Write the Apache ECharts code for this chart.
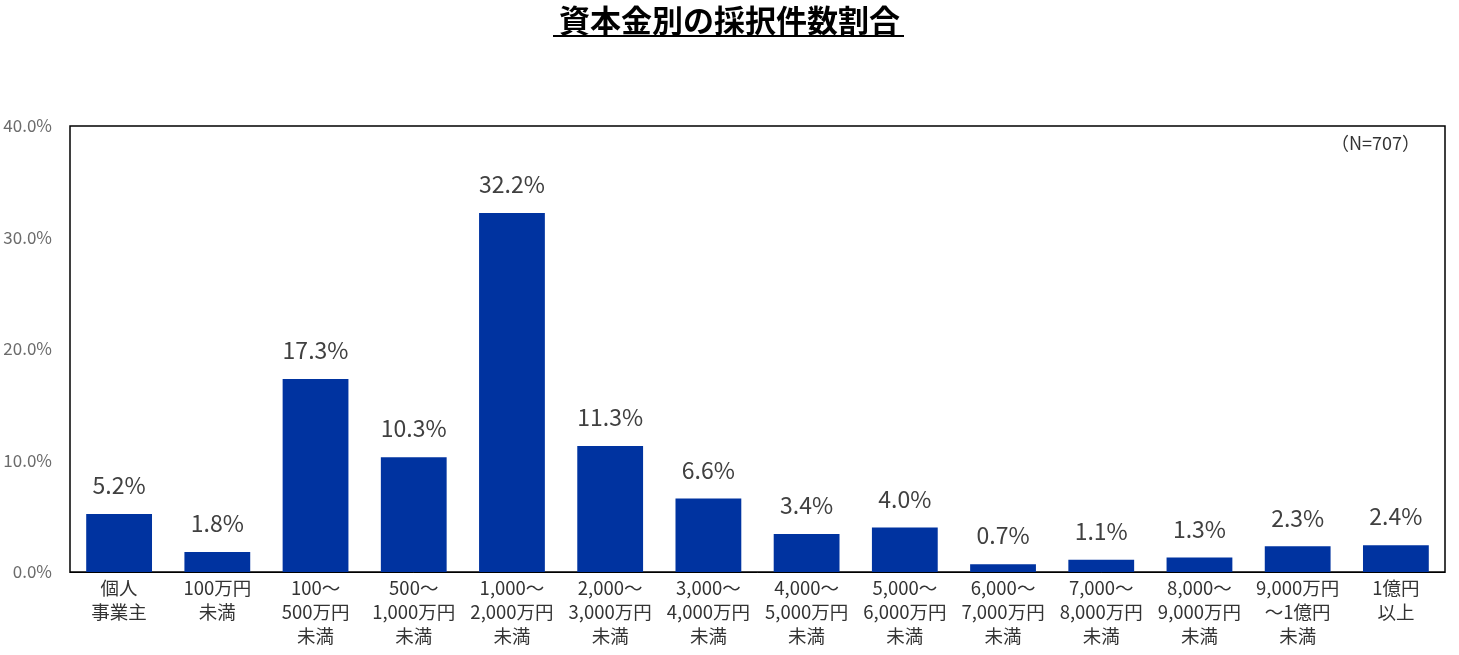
<!DOCTYPE html>
<html><head><meta charset="utf-8">
<script src="https://cdn.jsdelivr.net/npm/echarts@6/dist/echarts.min.js"></script>
<style>html,body{margin:0;padding:0;background:#fff}#c{width:1459px;height:655px}</style>
</head><body><div id="c"></div>
<script>
const titleText = '資本金別の採択件数割合';
const noteText = '（N=707）';
const categories = ['個人\n事業主','100万円\n未満','100～\n500万円\n未満','500～\n1,000万円\n未満','1,000～\n2,000万円\n未満','2,000～\n3,000万円\n未満','3,000～\n4,000万円\n未満','4,000～\n5,000万円\n未満','5,000～\n6,000万円\n未満','6,000～\n7,000万円\n未満','7,000～\n8,000万円\n未満','8,000～\n9,000万円\n未満','9,000万円\n～1億円\n未満','1億円\n以上'];
const values = [5.2,1.8,17.3,10.3,32.2,11.3,6.6,3.4,4.0,0.7,1.1,1.3,2.3,2.4];
const yTicks = [0,10,20,30,40];

const font = '"Noto Sans CJK JP", "Noto Sans", sans-serif';
const chart = echarts.init(document.getElementById('c'));
chart.setOption({
  animation:false,
  textStyle:{fontFamily:font},
  title:{text:titleText,left:'center',top:0,textStyle:{fontSize:31,fontWeight:'bold',color:'#000',fontFamily:font}},
  graphic:[{type:'line',shape:{x1:553,y1:36,x2:904,y2:36},style:{stroke:'#000',lineWidth:2}},
           {type:'text',right:39,top:134,style:{text:noteText,fontSize:18,fill:'#333',fontFamily:font}}],
  grid:{left:70,right:14,top:126,bottom:83,show:true,borderColor:'#000',borderWidth:1.5},
  xAxis:{type:'category',data:categories,
    axisLine:{lineStyle:{color:'#000'}},axisTick:{show:false},
    axisLabel:{interval:0,fontSize:18.5,color:'#333',lineHeight:24,margin:4,fontFamily:font}},
  yAxis:{type:'value',min:yTicks[0],max:yTicks[yTicks.length-1],interval:10,
    splitLine:{show:false},axisLine:{show:false},axisTick:{show:false},
    axisLabel:{formatter:v=>v.toFixed(1)+'%',fontSize:17,color:'#6b6b6b',margin:18,fontFamily:font}},
  series:[{type:'bar',data:values,barCategoryGap:'33%',itemStyle:{color:'#0033A0'},
    label:{show:true,position:'top',distance:17,formatter:p=>p.value.toFixed(1)+'%',fontSize:23,color:'#404040',fontFamily:font}}]
});
</script></body></html>
